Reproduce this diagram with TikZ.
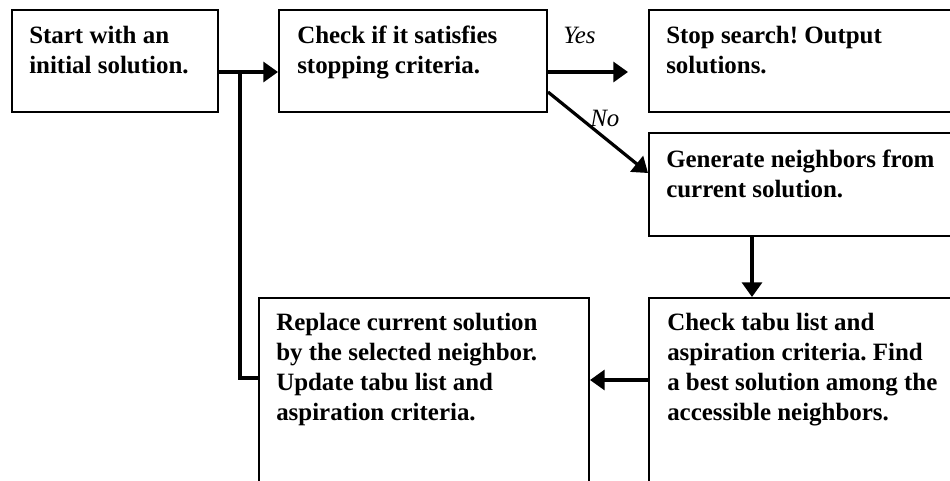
\documentclass[tikz,border=0pt]{standalone}
\usepackage{fontspec}
\setmainfont{Liberation Serif}
\usetikzlibrary{arrows.meta,calc}
\frenchspacing

% lines of a box text, first baseline on the node's base
\newcommand{\boxlines}[1]{\begin{tabular}[t]{@{}l@{}}#1\end{tabular}}

\tikzset{
  stepbox/.style={draw=black, line width=1.5pt, fill=white, rectangle, inner sep=0pt, anchor=north west},
  boxtext/.style={anchor=base west, inner sep=0pt,
    font=\fontsize{18.7pt}{22.5pt}\selectfont\bfseries},
  flow/.style={line width=2.4pt, -{Triangle[length=11pt,width=15pt]}},
  link/.style={line width=2.4pt},
  branch/.style={anchor=base west, inner sep=0pt,
    font=\fontsize{18.7pt}{22.5pt}\selectfont\itshape}
}

\begin{document}
\begin{tikzpicture}[x=0.75pt, y=-0.75pt]
  \useasboundingbox (0,0) rectangle (950,480);
  \clip (0,0) rectangle (950,480);

  % process boxes
  \node[stepbox, minimum width=206*0.75pt, minimum height=102*0.75pt] (b1) at (11,9) {};
  \node[stepbox, minimum width=268*0.75pt, minimum height=102*0.75pt] (b2) at (278,9) {};
  \node[stepbox, minimum width=320*0.75pt, minimum height=102*0.75pt] (b3) at (648,9) {};
  \node[stepbox, minimum width=320*0.75pt, minimum height=103*0.75pt] (b4) at (648,132) {};
  \node[stepbox, minimum width=320*0.75pt, minimum height=200*0.75pt] (b5) at (648,297) {};
  \node[stepbox, minimum width=330*0.75pt, minimum height=200*0.75pt] (b6) at (258,297) {};

  % box texts
  \node[boxtext] (t1) at (29,43) {\boxlines{Start with an\\initial solution.}};
  \node[boxtext] (t2) at (297,43) {\boxlines{Check if it satisfies\\stopping criteria.}};
  \node[boxtext] (t3) at (666,43) {\boxlines{Stop search! Output\\solutions.}};
  \node[boxtext] (t4) at (666,167) {\boxlines{Generate neighbors from\\current solution.}};
  \node[boxtext] (t5) at (667,330) {\boxlines{Check tabu list and\\aspiration criteria. Find\\a best solution among the\\accessible neighbors.}};
  \node[boxtext] (t6) at (276,330) {\boxlines{Replace current solution\\by the selected neighbor.\\Update tabu list and\\aspiration criteria.}};

  % connectors
  \coordinate (j1) at ($(b1.east)+(21,11)$);
  \coordinate (yesend) at ($(b3.west)+(-20,11)$);
  \draw[flow] ($(b1.east)+(0,11)$) -- ($(b2.west)+(0,11)$);
  \draw[link] (j1) |- ($(b6.north west)+(0,81)$);
  \draw[flow] ($(b2.east)+(0,11)$) -- (yesend);
  \draw[flow] ($(b2.south east)+(0,-21)$) -- ($(b4.north west)+(0,41)$);
  \draw[flow] ($(b4.south west)+(104,0)$) -- ($(b5.north west)+(104,0)$);
  \draw[flow] ($(b5.north west)+(0,83)$) -- ($(b6.north east)+(0,83)$);

  % branch labels
  \node[branch] (yes) at (563,43) {Yes};
  \node[branch] (no) at (590,126) {No};
\end{tikzpicture}
\end{document}
